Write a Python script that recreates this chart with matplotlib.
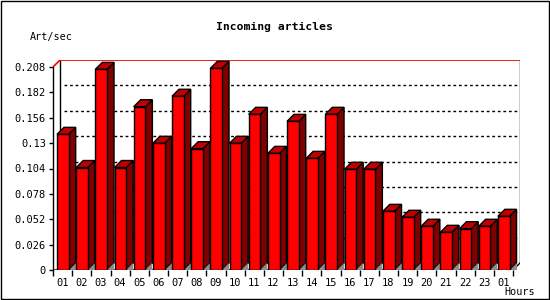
import matplotlib
matplotlib.use("Agg")
import matplotlib.pyplot as plt
from matplotlib.patches import Polygon, Rectangle

# hourly incoming article rate
hours = ['01', '02', '03', '04', '05', '06', '07', '08', '09', '10', '11', '12',
         '13', '14', '15', '16', '17', '18', '19', '20', '21', '22', '23', '01']
rate = [0.139, 0.105, 0.2056, 0.105, 0.1673, 0.1298, 0.178, 0.1243,
        0.2066, 0.1298, 0.1595, 0.1195, 0.1523, 0.1144, 0.1595, 0.1032,
        0.1032, 0.0601, 0.054, 0.0448, 0.0386, 0.0423, 0.0448, 0.055]
yticks = [0, 0.026, 0.052, 0.078, 0.104, 0.13, 0.156, 0.182, 0.208]

W, H = 550, 300
fig = plt.figure(figsize=(W / 100, H / 100), dpi=100)

# pixel geometry of the plot (front-left corner at 53,270; depth 7px)
n = len(rate)
ymax = yticks[-1]
px_x = 460 / n
px_y = 203 / ymax
dx = 7 / px_x
dy = 7 / px_y
ax = fig.add_axes([53 / W, 30 / H, (460 + 7) / W, (203 + 7) / H])
ax.set_xlim(0, n + dx)
ax.set_ylim(0, ymax + dy)
ax.patch.set_visible(False)

mono = 'DejaVu Sans Mono'

# back wall with dotted grid
for v in yticks[1:-1]:
    ax.plot([dx + 4 / px_x, n + dx], [v + dy, v + dy], color='black', lw=1,
            ls=(0, (2, 2)), zorder=1)
ax.plot([dx, dx], [dy, ymax + dy], color='black', lw=1, zorder=1)
ax.plot([n + dx, n + dx], [dy, ymax + dy], color='black', lw=1, zorder=1)
ax.plot([dx, n + dx], [ymax + dy + 1 / px_y, ymax + dy + 1 / px_y], color='black', lw=1, zorder=1)
ax.plot([0, dx, n + dx], [ymax, ymax + dy, ymax + dy], color='red', lw=1.2, zorder=1)
ax.plot([0, n, n + dx], [0, 0, dy], color='black', lw=1, zorder=1)

# 3D bars
off = 4 / px_x
bw = 11.7 / px_x
xl = [i + off for i in range(n)]
ax.bar(xl, rate, width=bw, align='edge', color='#ff0000', edgecolor='black',
       lw=1, zorder=3)
for x, v in zip(xl, rate):
    r = x + bw
    ax.add_patch(Polygon([(r, 0), (r + dx, dy), (r + dx, v + dy), (r, v)],
                         closed=True, fc='#800000', ec='black', lw=1, zorder=2))
    ax.add_patch(Polygon([(x, v), (x + dx, v + dy), (r + dx, v + dy), (r, v)],
                         closed=True, fc='#c00000', ec='black', lw=1, zorder=2))
    ax.add_patch(Polygon([(r, 0), (r + dx, 0), (r + dx, dy)],
                         closed=True, fc='#8c8c8c', ec='none', zorder=2.5))

# axes and ticks
for s in ['top', 'right', 'bottom']:
    ax.spines[s].set_visible(False)
ax.spines['left'].set_bounds(0, ymax)
ax.spines['left'].set_linewidth(1)
ax.set_yticks(yticks)
ax.set_yticklabels(['0' if v == 0 else ('%g' % v) for v in yticks],
                   fontfamily=mono, fontsize=7.5)
ax.tick_params(axis='y', direction='out', length=3, width=1, pad=2)
ax.set_xticks(range(n + 1))
ax.set_xticklabels([])
ax.tick_params(axis='x', which='major', direction='out', length=4, width=1)
ax.set_xticks([i + 0.5 for i in range(n)], minor=True)
ax.set_xticklabels(hours, minor=True, fontfamily=mono, fontsize=7.5)
ax.tick_params(axis='x', which='minor', length=0, pad=6)

fig.text(274 / W, 1 - 27 / H, 'Incoming articles', ha='center', va='center',
         fontfamily=mono, fontweight='bold', fontsize=8.2)
fig.text(30 / W, 1 - 37 / H, 'Art/sec', ha='left', va='center',
         fontfamily=mono, fontsize=7.3)
fig.text(504 / W, 1 - 292 / H, 'Hours', ha='left', va='center',
         fontfamily=mono, fontsize=7.3)

# outer frame
fig.patches.append(Rectangle((0.5 / W, 1.5 / H), 548 / W, 297.5 / H,
                             transform=fig.transFigure, fill=False,
                             ec='black', lw=1))

fig.savefig('out.png', dpi=100)
